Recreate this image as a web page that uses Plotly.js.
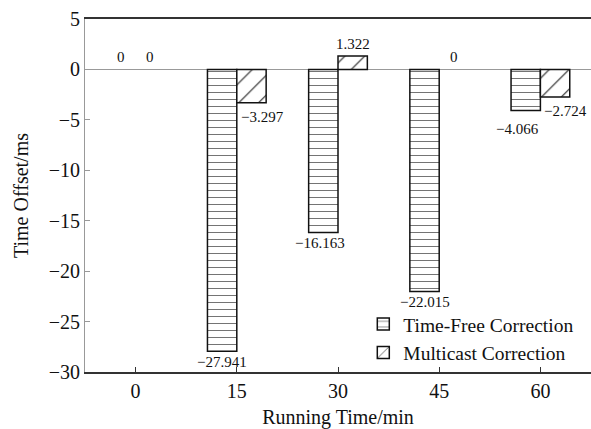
<!DOCTYPE html>
<html>
<head>
<meta charset="utf-8">
<script src="https://cdn.plot.ly/plotly-3.0.1.min.js"></script>
<style>html,body{margin:0;padding:0;background:#fff;}#chart{width:591px;height:429px;}</style>
</head>
<body>
<div id="chart"></div>
<script>
const categories = ['0', '15', '30', '45', '60'];
const timeFreeValues = [0, -27.941, -16.163, -22.015, -4.066];
const multicastValues = [0, -3.297, 1.322, 0, -2.724];
const seriesNames = ['Time-Free Correction', 'Multicast Correction'];
const yTicks = [5, 0, -5, -10, -15, -20, -25, -30];

// label pixel offsets (styling only)
const tfLabelDx = [0, 0, -3, 0, -8];
const tfLabelDy = [0, 0, 0, 0, -8];
const mcLabelDx = [0, 11, 0, 0, 10];
const mcLabelDy = [0, -3, 0, 0, -3];

const BARGAP = 0.42;
const half = (1 - BARGAP) / 4;
const font = 'Liberation Serif, Times New Roman, serif';

function fmt(v) { return String(v).replace('-', '\u2212'); }
// zero-height bars are not drawn (no outline), as in the reference
function barHeights(vals) { return vals.map(v => v === 0 ? null : v); }

const tf = {
  type: 'bar', name: seriesNames[0], x: categories, y: barHeights(timeFreeValues),
  marker: {color: '#ffffff', line: {color: '#111', width: 1.5},
    pattern: {shape: '-', fgcolor: '#666', bgcolor: '#ffffff', size: 7, solidity: 0.13}},
  hoverinfo: 'skip'
};
const mc = {
  type: 'bar', name: seriesNames[1], x: categories, y: barHeights(multicastValues),
  marker: {color: '#ffffff', line: {color: '#111', width: 1.5},
    pattern: {shape: '/', fgcolor: '#222', bgcolor: '#ffffff', size: 14, solidity: 0.08}},
  hoverinfo: 'skip'
};

const annotations = [];
function addLabels(vals, off, dx, dy) {
  vals.forEach((v, i) => {
    const neg = v < 0;
    annotations.push({
      x: i + off, y: v, xref: 'x', yref: 'y', text: fmt(v), showarrow: false,
      xanchor: 'center', yanchor: 'middle',
      xshift: dx[i], yshift: (neg ? -11 : 12) + dy[i],
      font: {family: font, size: 15, color: '#111'}
    });
  });
}
addLabels(timeFreeValues, -half, tfLabelDx, tfLabelDy);
addLabels(multicastValues, half, mcLabelDx, mcLabelDy);

const layout = {
  width: 591, height: 429,
  margin: {l: 85, r: 0, t: 19, b: 57},
  paper_bgcolor: '#fff', plot_bgcolor: '#fff',
  barmode: 'group', bargap: BARGAP, bargroupgap: 0,
  font: {family: font, color: '#111'},
  showlegend: true,
  legend: {x: 0.55, y: 0.19, xanchor: 'left', yanchor: 'top', bgcolor: 'rgba(0,0,0,0)',
    font: {family: font, size: 19.5, color: '#111'}, tracegroupgap: 0, itemwidth: 30},
  xaxis: {
    type: 'category', range: [-0.5, 4.5],
    showline: true, mirror: true, linecolor: '#333', linewidth: 2,
    ticks: 'inside', ticklen: 5, tickcolor: '#333', tickwidth: 1,
    showgrid: false, zeroline: false,
    tickfont: {family: font, size: 20, color: '#111'},
    title: {text: 'Running Time/min', font: {family: font, size: 20, color: '#111'}, standoff: 14}
  },
  yaxis: {
    range: [-30, 5], tickvals: yTicks,
    showline: true, linecolor: '#999', linewidth: 1,
    ticks: 'inside', ticklen: 5, tickcolor: '#999',
    showgrid: false, zeroline: true, zerolinecolor: '#999', zerolinewidth: 1.5,
    tickfont: {family: font, size: 20, color: '#111'},
    title: {text: 'Time Offset/ms', font: {family: font, size: 20, color: '#111'}, standoff: 14}
  },
  annotations: annotations
};

Plotly.newPlot('chart', [tf, mc], layout, {displayModeBar: false, staticPlot: true});
</script>
</body>
</html>
